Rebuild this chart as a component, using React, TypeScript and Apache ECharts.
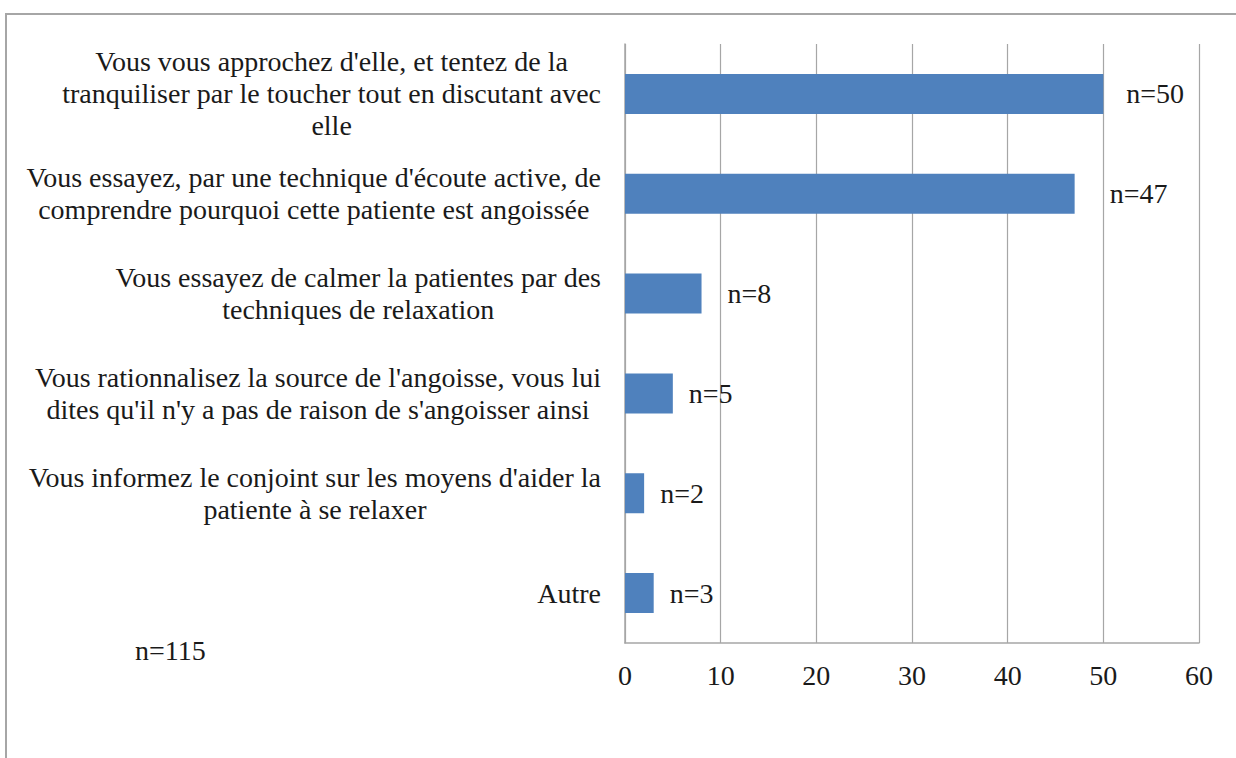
import React, { useEffect, useRef } from "react";
import * as echarts from "echarts";

const categories: string[] = [
  "Vous vous approchez d'elle, et tentez de la\ntranquiliser par le toucher tout en discutant avec\nelle",
  "Vous essayez, par une technique d'écoute active, de\ncomprendre pourquoi cette patiente est angoissée",
  "Vous essayez de calmer la patientes par des\ntechniques de relaxation",
  "Vous rationnalisez la source de l'angoisse, vous lui\ndites qu'il n'y a pas de raison de s'angoisser ainsi",
  "Vous informez le conjoint sur les moyens d'aider la\npatiente à se relaxer",
  "Autre",
];
const values: number[] = [50, 47, 8, 5, 2, 3];
const totalLabel = "n=115";
const xTicks = { min: 0, max: 60, interval: 10 };

// label gaps (style only), as placed in the original
const labelGaps: number[] = [23, 35, 26, 16, 16, 16];

const FONT = "'Liberation Serif', 'Times New Roman', serif";
const FS = 28;

export default function App() {
  const ref = useRef<HTMLDivElement>(null);
  useEffect(() => {
    if (!ref.current) return;
    const chart = echarts.init(ref.current, null, { renderer: "svg" });
    chart.setOption({
      animation: false,
      backgroundColor: "#fff",
      grid: { left: 625, right: 37, top: 44, bottom: 115, containLabel: false },
      xAxis: {
        type: "value",
        min: xTicks.min,
        max: xTicks.max,
        interval: xTicks.interval,
        axisLine: { show: true, lineStyle: { color: "#a6a6a6", width: 1.5 } },
        axisTick: { show: false },
        splitLine: { show: true, lineStyle: { color: "#a6a6a6", width: 1.2 } },
        axisLabel: { color: "#1a1a1a", fontFamily: FONT, fontSize: FS, margin: 18 },
      },
      yAxis: {
        type: "category",
        inverse: true,
        data: categories,
        axisLine: { show: true, lineStyle: { color: "#a6a6a6", width: 1.5 } },
        axisTick: { show: false },
        axisLabel: {
          margin: 24,
          color: "#1a1a1a",
          fontFamily: FONT,
          fontSize: FS,
          lineHeight: 32,
          align: "right",
          formatter: (v: string) =>
            v.split("\n").map((l) => "{c|" + l + "}").join("\n"),
          rich: {
            c: {
              align: "center",
              color: "#1a1a1a",
              fontFamily: FONT,
              fontSize: FS,
              lineHeight: 32,
            },
          },
        },
      },
      series: [
        {
          type: "bar",
          data: values.map((v, i) => ({
            value: v,
            label: { distance: labelGaps[i] },
          })),
          barWidth: 40,
          itemStyle: { color: "#4f81bd" },
          label: {
            show: true,
            position: "right",
            distance: 20,
            formatter: (p: any) => "n=" + p.value,
            color: "#1a1a1a",
            fontFamily: FONT,
            fontSize: FS,
          },
        },
      ],
      graphic: [
        {
          type: "rect",
          shape: { x: 6, y: 14, width: 1300, height: 800 },
          style: { fill: "none", stroke: "#a6a6a6", lineWidth: 2 },
          silent: true,
        },
        {
          type: "text",
          left: 135,
          top: 636,
          style: { text: totalLabel, fill: "#1a1a1a", font: FS + "px " + FONT },
        },
      ],
    });
    return () => chart.dispose();
  }, []);
  return (
    <div
      ref={ref}
      style={{ position: "absolute", left: 0, top: 0, width: 1236, height: 758 }}
    />
  );
}
